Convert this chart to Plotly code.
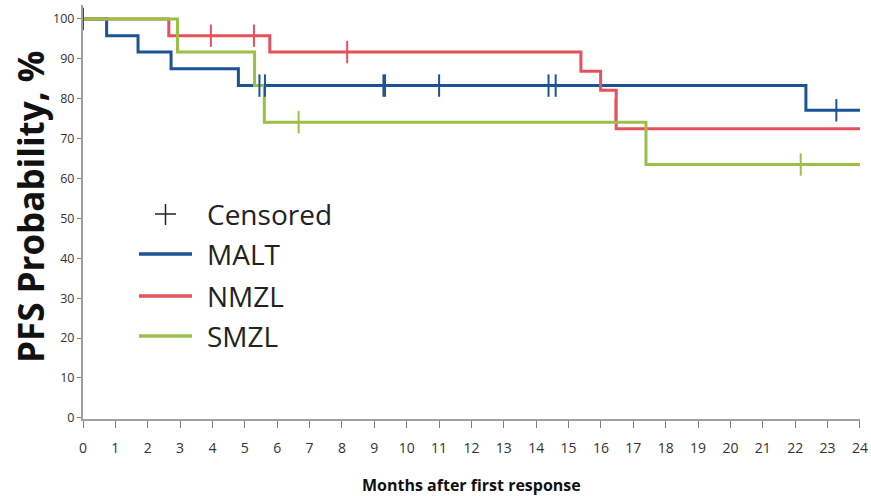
import plotly.graph_objects as go

# ---- data ----
months = list(range(0, 25))
y_ticks = list(range(0, 101, 10))

malt_t = [0, 0.73, 1.70, 2.72, 4.80, 22.33, 24]
malt_s = [100, 95.8, 91.7, 87.5, 83.3, 77.1, 77.1]
malt_cens_t = [0.0, 5.45, 5.62, 9.28, 9.33, 11.0, 14.38, 14.60, 23.27]
malt_cens_s = [100, 83.3, 83.3, 83.3, 83.3, 83.3, 83.3, 83.3, 77.1]

nmzl_t = [0, 2.65, 5.77, 15.38, 15.99, 16.47, 24]
nmzl_s = [100, 95.8, 91.7, 86.9, 82.1, 72.5, 72.5]
nmzl_cens_t = [3.95, 5.28, 8.16, 16.45]
nmzl_cens_s = [95.8, 95.8, 91.7, 77.3]

smzl_t = [0, 2.92, 5.30, 5.60, 17.39, 24]
smzl_s = [100, 91.7, 83.3, 74.1, 63.5, 63.5]
smzl_cens_t = [6.66, 22.17]
smzl_cens_s = [74.1, 63.5]

series = [
    ("MALT", malt_t, malt_s, malt_cens_t, malt_cens_s, "#1b5394"),
    ("NMZL", nmzl_t, nmzl_s, nmzl_cens_t, nmzl_cens_s, "#e8505b"),
    ("SMZL", smzl_t, smzl_s, smzl_cens_t, smzl_cens_s, "#9bc045"),
]

fig = go.Figure()
for name, t, s, ct, cs, col in series:
    fig.add_trace(go.Scatter(x=t, y=s, mode="lines", line=dict(color=col, width=3, shape="hv"),
                             name=name, showlegend=False, cliponaxis=False))
for name, t, s, ct, cs, col in series:
    fig.add_trace(go.Scatter(x=ct, y=cs, mode="markers", cliponaxis=False,
                             marker=dict(symbol="line-ns", size=16, line=dict(color=col, width=2)),
                             showlegend=False))

# ---- pixel -> paper helpers for custom legend ----
L, R, T, B = 83, 860, 5, 419
def px(x):
    return (x - L) / (R - L)
def py(y):
    return (B - y) / (B - T)

font_main = "Open Sans"
shapes = []
annots = []
# censored "+"
shapes.append(dict(type="line", xref="paper", yref="paper", x0=px(155), x1=px(176), y0=py(214), y1=py(214),
                   line=dict(color="#222", width=1.5)))
shapes.append(dict(type="line", xref="paper", yref="paper", x0=px(165.5), x1=px(165.5), y0=py(204), y1=py(225),
                   line=dict(color="#222", width=1.5)))
annots.append(dict(text="Censored", xref="paper", yref="paper", x=px(205), y=py(214), xanchor="left",
                   yanchor="middle", showarrow=False, font=dict(family=font_main, size=28, color="#222")))
for (name, t, s, ct, cs, col), yy in zip(series, [254, 296, 336]):
    shapes.append(dict(type="line", xref="paper", yref="paper", x0=px(139), x1=px(192), y0=py(yy), y1=py(yy),
                       line=dict(color=col, width=3.5)))
    annots.append(dict(text=name, xref="paper", yref="paper", x=px(205), y=py(yy), xanchor="left",
                       yanchor="middle", showarrow=False, font=dict(family=font_main, size=28, color="#222")))

annots.append(dict(text="<b>PFS Probability, %</b>", xref="paper", yref="paper", x=px(31), y=py(207),
                   textangle=-90, showarrow=False, xanchor="center", yanchor="middle",
                   font=dict(family=font_main, size=35, color="#111")))
annots.append(dict(text="<b>Months after first response</b>", xref="paper", yref="paper", x=px(472), y=py(485),
                   showarrow=False, xanchor="center", yanchor="middle",
                   font=dict(family=font_main, size=16, color="#111")))

fig.update_layout(
    width=871, height=496,
    margin=dict(l=L, r=871 - R, t=T, b=496 - B, autoexpand=False),
    paper_bgcolor="white", plot_bgcolor="white",
    shapes=shapes, annotations=annots,
    showlegend=False,
)
fig.update_xaxes(range=[0, 24.001], tickvals=months, ticktext=[str(m) for m in months],
                 automargin=False,
                 showgrid=False, zeroline=False, showline=True, linecolor="#a0a0a0", linewidth=2,
                 ticks="outside", ticklen=7, tickcolor="#808080", tickwidth=1,
                 ticklabelstandoff=8, ticklabeloverflow="allow",
                 tickfont=dict(family=font_main, size=14, color="#333"))
fig.update_yaxes(range=[-0.3, 103.5], tickvals=y_ticks, ticktext=[str(v) for v in y_ticks],
                 automargin=False,
                 showgrid=False, zeroline=False, showline=True, linecolor="#a0a0a0", linewidth=2,
                 ticks="outside", ticklen=4, tickcolor="#808080", tickwidth=1,
                 ticklabelstandoff=0,
                 tickfont=dict(family=font_main, size=12.5, color="#333"))

fig.write_html("out.html")
